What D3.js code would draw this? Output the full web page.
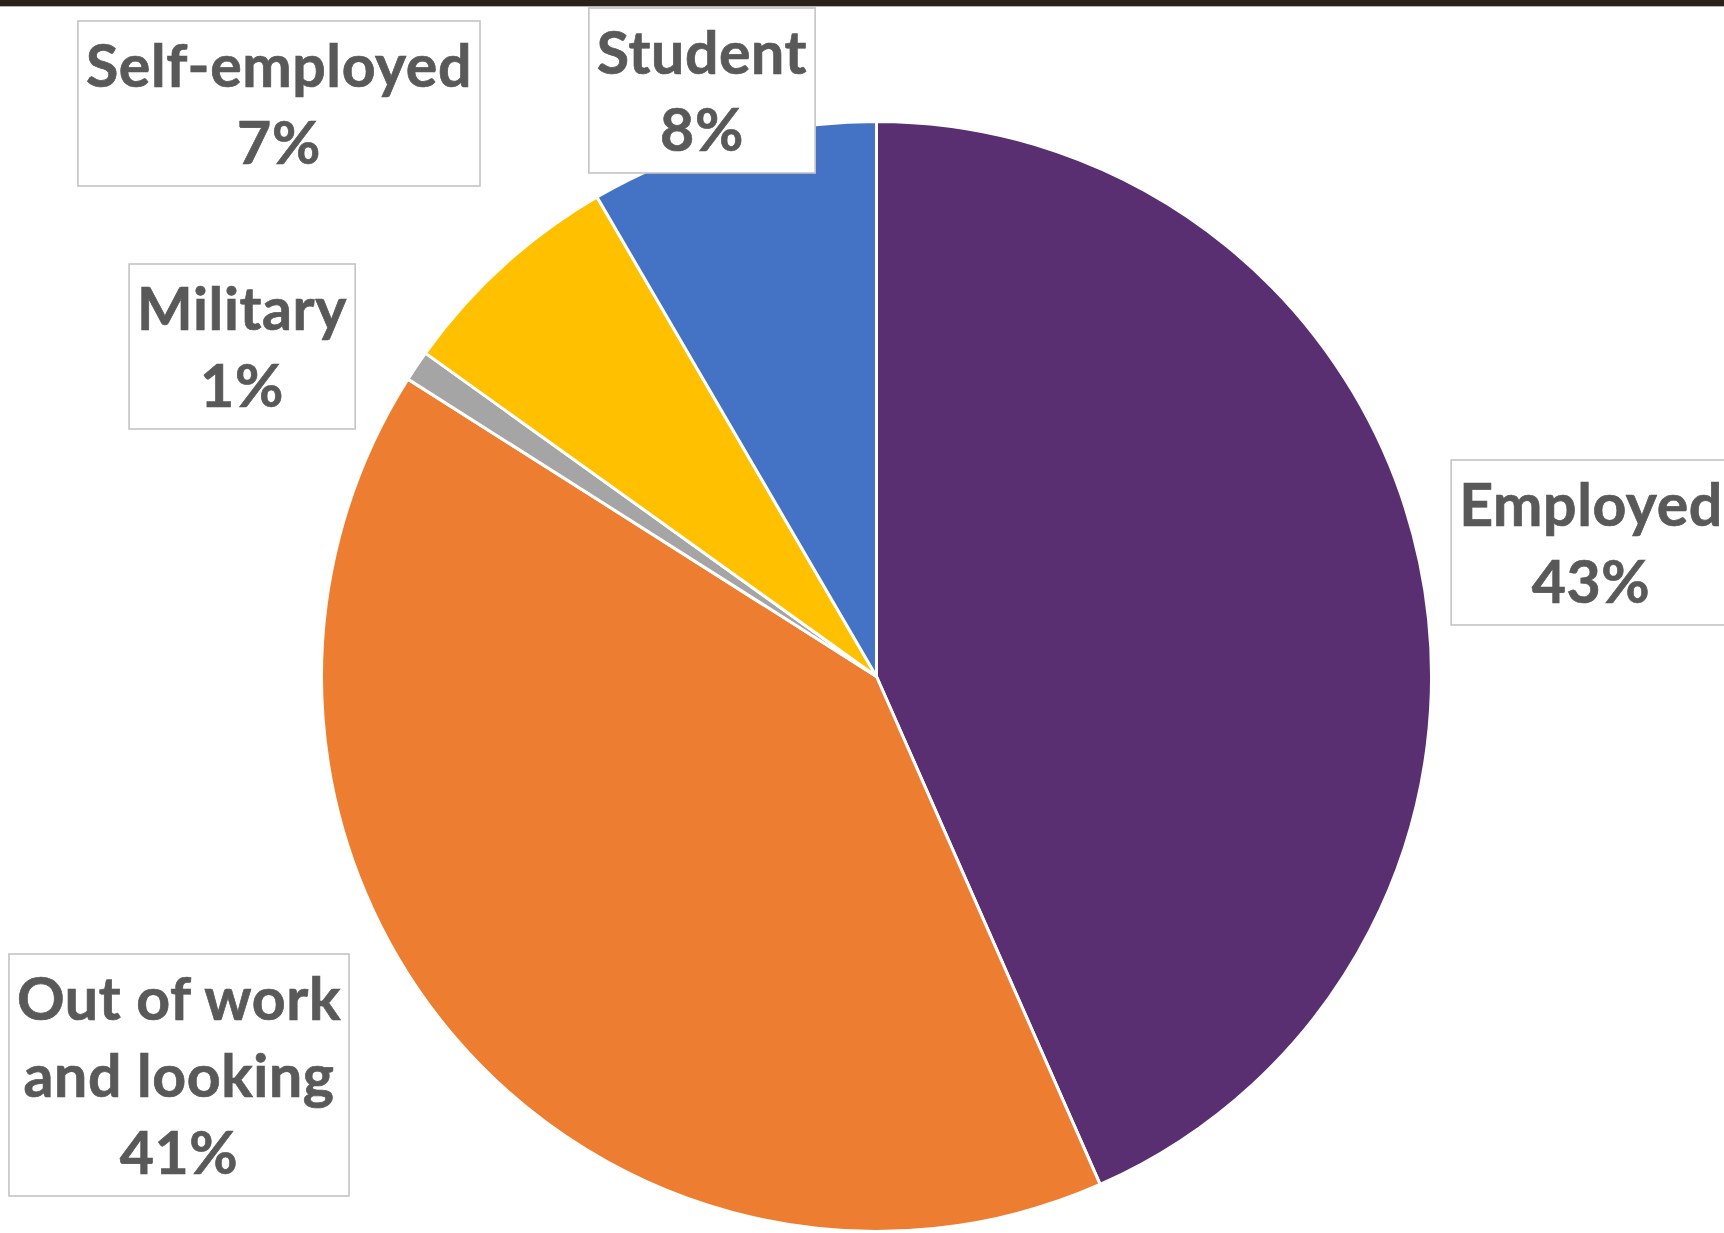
<!DOCTYPE html>
<html>
<head>
<meta charset="utf-8">
<script src="https://cdn.jsdelivr.net/npm/d3@7"></script>
<style>
  html, body { margin: 0; padding: 0; background: #ffffff; }
  svg { display: block; }
</style>
</head>
<body>
<svg id="chart" width="1724" height="1233"></svg>
<script>
// Respondent employment status (counts per thousand respondents)
const categories = ["Employed", "Out of work and looking", "Military", "Self-employed", "Student"];
const values = [434, 406, 9, 67, 84];
const colors = ["#592f71", "#ed7d31", "#a5a5a5", "#ffc000", "#4472c4"];
// Label lines shown in each callout box (percent line appended from the data)
const labelLines = [["Employed"], ["Out of work", "and looking"], ["Military"], ["Self-employed"], ["Student"]];

const W = 1724, H = 1233;
const svg = d3.select("#chart");

// thin dark strip across the top edge
svg.append("rect").attr("x", 0).attr("y", 0).attr("width", W).attr("height", 6).attr("fill", "#29221a");
svg.append("rect").attr("x", 0).attr("y", 6).attr("width", W).attr("height", 1).attr("fill", "#b5b2ad");

const cx = 876.5, cy = 676.5, radius = 555;
const total = d3.sum(values);
const data = categories.map((c, i) => ({ name: c, value: values[i], color: colors[i], lines: labelLines[i] }));

const pie = d3.pie().sort(null).value(d => d.value);
const arc = d3.arc().innerRadius(0).outerRadius(radius);

const g = svg.append("g").attr("transform", `translate(${cx},${cy})`);
g.selectAll("path.slice")
  .data(pie(data))
  .join("path")
  .attr("class", "slice")
  .attr("d", arc)
  .attr("fill", d => d.data.color)
  .attr("stroke", "#ffffff")
  .attr("stroke-width", 3)
  .attr("stroke-linejoin", "round");

// Callout placements: centre x and first baseline of each label block
const placements = {
  "Employed": { x: 1591, y: 526 },
  "Out of work and looking": { x: 179, y: 1020 },
  "Military": { x: 242, y: 330 },
  "Self-employed": { x: 279, y: 87 },
  "Student": { x: 702, y: 74 }
};
const lineH = 77;
const fmtPct = v => Math.round(v / total * 100) + "%";

const labels = svg.append("g").attr("class", "labels");
data.forEach(d => {
  const p = placements[d.name];
  const lines = d.lines.concat([fmtPct(d.value)]);
  const lg = labels.append("g");
  const box = lg.append("rect")
    .attr("fill", "#ffffff")
    .attr("stroke", "#c4c4c4")
    .attr("stroke-width", 1.6);
  const t = lg.append("text")
    .attr("font-family", "Lato, 'Open Sans', sans-serif")
    .attr("font-weight", 700)
    .attr("font-size", 59)
    .attr("letter-spacing", 0.6)
    .attr("fill", "#595959")
    .attr("stroke", "#595959")
    .attr("stroke-width", 0.7)
    .attr("text-anchor", "middle");
  lines.forEach((ln, i) => {
    t.append("tspan").attr("x", p.x).attr("y", p.y + i * lineH).text(ln);
  });
  const bb = t.node().getBBox();
  const padX = 8;
  const top = p.y - 66;
  const bottom = p.y + (lines.length - 1) * lineH + 22;
  box.attr("x", bb.x - padX).attr("y", top)
     .attr("width", bb.width + 2 * padX).attr("height", bottom - top);
});
</script>
</body>
</html>
